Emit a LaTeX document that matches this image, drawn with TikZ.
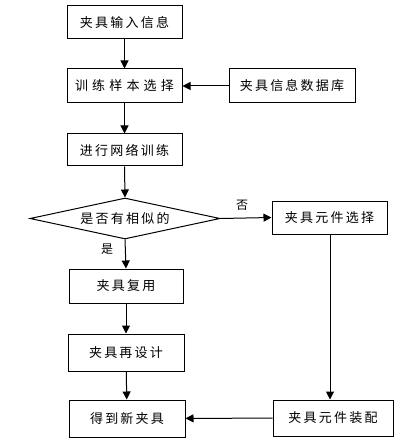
\documentclass[tikz,border=0pt]{standalone}
\usepackage{fontspec}
\setmainfont{Noto Sans CJK SC}
\newfontfamily\cjk[LetterSpace=17]{Noto Sans CJK SC}
\newfontfamily\cjkwide[LetterSpace=32]{Noto Sans CJK SC}
\usetikzlibrary{arrows.meta,shapes.geometric}
\begin{document}
\begin{tikzpicture}[x=1pt,y=-1pt,
  box/.style={draw,line width=1pt,inner sep=0pt,font=\cjk\fontsize{13pt}{15pt}\selectfont},
  arr/.style={line width=1pt,-{Triangle[length=8pt,width=8pt]}},
  lab/.style={font=\cjk\fontsize{12pt}{14pt}\selectfont,inner sep=0pt}]
\useasboundingbox (0,0) rectangle (407,446);
\node[box,minimum width=115pt,minimum height=33pt] (b1) at (124.5,22.5) {夹具输入信息};
\node[box,minimum width=115pt,minimum height=34pt,font=\cjkwide\fontsize{13pt}{15pt}\selectfont] (b2) at (124.5,86) {训练样本选择};
\node[box,minimum width=126pt,minimum height=34pt] (db) at (292,86) {夹具信息数据库};
\node[box,minimum width=115pt,minimum height=32pt] (b3) at (124.5,150) {进行网络训练};
\node[box,diamond,aspect=4.6,minimum width=190pt,minimum height=41pt] (d) at (125,218.5) {};
\node[lab,font=\cjk\fontsize{13pt}{15pt}\selectfont] at (d.center) {是否有相似的};
\node[box,minimum width=115pt,minimum height=33pt] (sel) at (329.5,217.5) {夹具元件选择};
\node[box,minimum width=114pt,minimum height=34pt] (reuse) at (126,286) {夹具复用};
\node[box,minimum width=116pt,minimum height=37pt] (redes) at (126,352.5) {夹具再设计};
\node[box,minimum width=116pt,minimum height=37pt] (new) at (127,418.5) {得到新夹具};
\node[box,minimum width=120pt,minimum height=36pt] (asm) at (333,418) {夹具元件装配};
\draw[arr] (b1) -- (b2);
\draw[arr] (db) -- (b2);
\draw[arr] (b2) -- (b3);
\draw[arr] (b3.south) -- (d.north);
\draw[arr] (d.east) -- (sel.west);
\draw[arr] (d.south) -- (reuse.north);
\draw[arr] (reuse) -- (redes);
\draw[arr] (redes) -- (new);
\draw[arr] (sel.south -| 330,0) -- (asm.north -| 330,0);
\draw[arr] (asm) -- (new);
\node[lab] (yes) at (107,249) {是};
\node[lab] (no) at (242,205) {否};
\end{tikzpicture}
\end{document}
